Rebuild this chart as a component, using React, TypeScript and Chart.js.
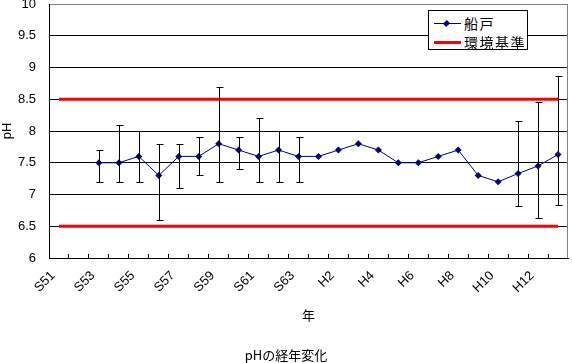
import React, { useEffect, useRef } from "react";
import { Chart, registerables } from "chart.js";

Chart.register(...registerables);

// ---- data ----
const categories = [
  "S51", "S52", "S53", "S54", "S55", "S56", "S57", "S58", "S59", "S60", "S61", "S62", "S63",
  "H1", "H2", "H3", "H4", "H5", "H6", "H7", "H8", "H9", "H10", "H11", "H12", "H13",
];
const xTickLabels = [
  "S51", "", "S53", "", "S55", "", "S57", "", "S59", "", "S61", "", "S63",
  "", "H2", "", "H4", "", "H6", "", "H8", "", "H10", "", "H12", "",
];
const funatoValues: (number | null)[] = [
  null, null, 7.5, 7.5, 7.6, 7.3, 7.6, 7.6, 7.8, 7.7, 7.6, 7.7, 7.6,
  7.6, 7.7, 7.8, 7.7, 7.5, 7.5, 7.6, 7.7, 7.3, 7.2, 7.33, 7.45, 7.63,
];
const errorHigh: (number | null)[] = [
  null, null, 7.7, 8.1, 8.0, 7.8, 7.8, 7.9, 8.7, 7.9, 8.2, 8.0, 7.9,
  null, null, null, null, null, null, null, null, null, null, 8.15, 8.45, 8.87,
];
const errorLow: (number | null)[] = [
  null, null, 7.2, 7.2, 7.2, 6.6, 7.1, 7.3, 7.2, 7.4, 7.2, 7.2, 7.2,
  null, null, null, null, null, null, null, null, null, null, 6.82, 6.63, 6.83,
];
const standardUpper = 8.5;
const standardLower = 6.5;
const yMin = 6;
const yMax = 10;
const yStep = 0.5;

const seriesName = "船戸";
const standardName = "環境基準";
const chartTitle = "pHの経年変化";
const xTitle = "年";
const yTitle = "pH";

const W = 572;
const H = 363;

const errorBarPlugin = {
  id: "errorBars",
  afterDatasetsDraw(chart: any) {
    const { ctx, scales } = chart;
    const xs = scales.x;
    const ys = scales.y;
    ctx.save();
    ctx.strokeStyle = "#000000";
    ctx.lineWidth = 1;
    for (let i = 0; i < categories.length; i++) {
      const hi = errorHigh[i];
      const lo = errorLow[i];
      if (hi == null || lo == null) continue;
      const x = Math.round(xs.getPixelForValue(i)) + 0.5;
      const yt = Math.round(ys.getPixelForValue(hi)) + 0.5;
      const yb = Math.round(ys.getPixelForValue(lo)) + 0.5;
      ctx.beginPath();
      ctx.moveTo(x, yt);
      ctx.lineTo(x, yb);
      ctx.moveTo(x - 3, yt);
      ctx.lineTo(x + 4, yt);
      ctx.moveTo(x - 3, yb);
      ctx.lineTo(x + 4, yb);
      ctx.stroke();
    }
    ctx.restore();
  },
};

const frameBorderPlugin = {
  id: "frameBorder",
  beforeDatasetsDraw(chart: any) {
    const { ctx, chartArea } = chart;
    ctx.save();
    ctx.strokeStyle = "#808080";
    ctx.lineWidth = 1;
    ctx.beginPath();
    const x = Math.floor(chartArea.right) - 0.5;
    ctx.moveTo(x, chartArea.top);
    ctx.lineTo(x, chartArea.bottom);
    ctx.stroke();
    ctx.restore();
  },
};

export default function App() {
  const canvasRef = useRef<HTMLCanvasElement | null>(null);

  useEffect(() => {
    const canvas = canvasRef.current;
    if (!canvas) return;
    const chart = new Chart(canvas, {
      type: "line",
      data: {
        labels: categories,
        datasets: [
          {
            label: seriesName,
            data: funatoValues,
            borderColor: "#000080",
            backgroundColor: "#000080",
            borderWidth: 1,
            pointStyle: "rectRot",
            pointRadius: 3.5,
            pointBorderWidth: 0,
            pointBackgroundColor: "#000080",
            tension: 0,
            spanGaps: false,
            order: 0,
          },
          {
            label: standardName,
            data: [
              { x: categories[0], y: standardUpper },
              { x: categories[categories.length - 1], y: standardUpper },
            ],
            borderColor: "#FF0000",
            borderWidth: 3,
            pointRadius: 0,
            order: 1,
          },
          {
            label: standardName + "下限",
            data: [
              { x: categories[0], y: standardLower },
              { x: categories[categories.length - 1], y: standardLower },
            ],
            borderColor: "#FF0000",
            borderWidth: 3,
            pointRadius: 0,
            order: 1,
          },
        ],
      } as any,
      options: {
        animation: false,
        responsive: false,
        devicePixelRatio: 1,
        layout: { padding: { top: 4, right: 0, left: 0, bottom: 0 } },
        plugins: {
          legend: { display: false },
          tooltip: { enabled: false },
          title: {
            display: true,
            text: chartTitle,
            position: "bottom",
            color: "#000000",
            font: { family: "'Noto Sans CJK JP', sans-serif", size: 13, weight: "normal" },
            padding: { top: 0, bottom: 0 },
          },
        },
        scales: {
          x: {
            type: "category",
            offset: true,
            grid: {
              offset: true,
              drawOnChartArea: false,
              drawTicks: true,
              tickLength: -4,
              color: "#000000",
            },
            border: { display: true, color: "#000000", width: 1 },
            ticks: {
              autoSkip: false,
              maxRotation: 45,
              minRotation: 45,
              padding: 14,
              labelOffset: -6,
              color: "#000000",
              font: { family: "'Liberation Sans', Arial, sans-serif", size: 13 },
              callback: (_v: any, i: number) => xTickLabels[i],
            },
            title: {
              display: true,
              text: xTitle,
              color: "#000000",
              font: { family: "'Noto Sans CJK JP', sans-serif", size: 13 },
              padding: { top: 0, bottom: 24.6 },
            },
            afterFit: (scale: any) => {
              scale.height = H - 15.6 - 258;
              scale.paddingLeft = 0;
              scale.paddingRight = 0;
            },
          },
          y: {
            type: "linear",
            min: yMin,
            max: yMax,
            ticks: {
              stepSize: yStep,
              padding: 13,
              color: "#000000",
              font: { family: "'Liberation Sans', Arial, sans-serif", size: 13 },
              callback: (v: any) => String(Number(v)),
            },
            grid: {
              drawTicks: false,
              color: (c: any) => (c.tick && c.tick.value === yMax ? "#808080" : "#000000"),
              lineWidth: 1,
            },
            border: { display: true, color: "#000000", width: 1 },
            title: {
              display: true,
              text: yTitle,
              color: "#000000",
              font: { family: "'Liberation Sans', Arial, sans-serif", size: 13 },
              padding: 0,
            },
            afterFit: (scale: any) => {
              scale.width = 49;
              scale.paddingTop = 0;
              scale.paddingBottom = 0;
            },
          },
        },
      } as any,
      plugins: [frameBorderPlugin, errorBarPlugin],
    });
    return () => chart.destroy();
  }, []);

  const legendFont = "'Noto Sans CJK JP', sans-serif";

  return (
    <div style={{ position: "absolute", left: 0, top: 0, width: W, height: H, background: "#ffffff" }}>
      <canvas ref={canvasRef} width={W} height={H} style={{ display: "block", width: W, height: H }} />
      <div
        style={{
          position: "absolute",
          left: 428,
          top: 10,
          width: 98,
          height: 38,
          border: "1px solid #000000",
          background: "#ffffff",
          fontFamily: legendFont,
          fontSize: 14,
          color: "#000000",
        }}
      >
        <div style={{ position: "absolute", left: 5, top: 12, width: 27, height: 1, background: "#000080" }} />
        <div
          style={{
            position: "absolute",
            left: 15,
            top: 10,
            width: 5,
            height: 5,
            background: "#000080",
            transform: "rotate(45deg) scale(0.9, 1.1)",
          }}
        />
        <div style={{ position: "absolute", left: 35, top: 3, lineHeight: "18px", letterSpacing: 1.5, whiteSpace: "nowrap" }}>
          {seriesName}
        </div>
        <div style={{ position: "absolute", left: 5, top: 30, width: 27, height: 3, background: "#FF0000" }} />
        <div style={{ position: "absolute", left: 35, top: 22, lineHeight: "18px", letterSpacing: 1.5, whiteSpace: "nowrap" }}>
          {standardName}
        </div>
      </div>
    </div>
  );
}
